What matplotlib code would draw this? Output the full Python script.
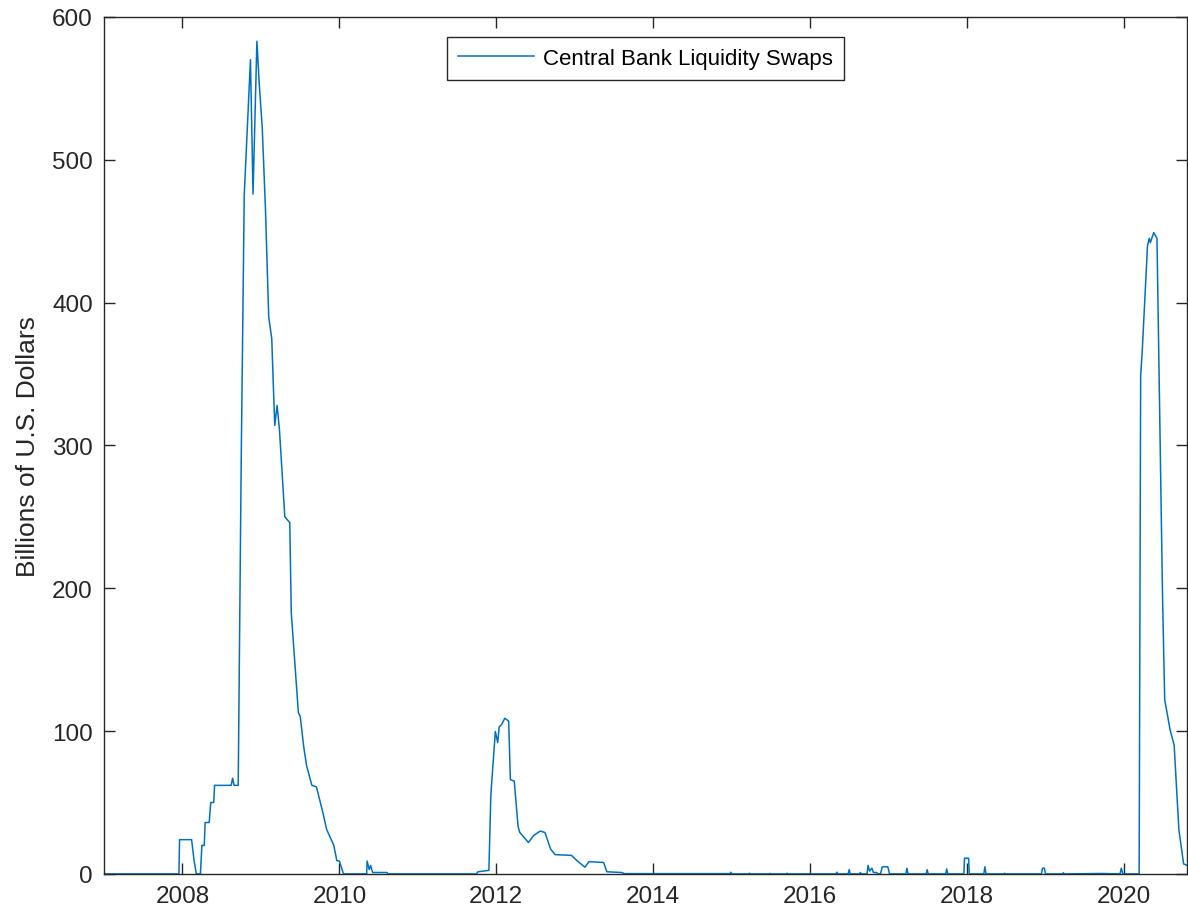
import matplotlib
matplotlib.use("Agg")
import matplotlib.pyplot as plt
import matplotlib.dates as mdates
import pandas as pd

plt.rcParams["font.family"] = ["Liberation Sans", "DejaVu Sans"]

# values, billions of USD
crisis_dates = [
    "2007-01-01", "2007-12-16", "2007-12-19", "2008-02-13", "2008-02-24",
    "2008-03-06", "2008-03-25", "2008-04-01", "2008-04-12", "2008-04-16",
    "2008-05-05", "2008-05-12", "2008-05-26", "2008-05-30", "2008-08-15",
    "2008-08-22", "2008-08-29", "2008-09-17", "2008-10-01", "2008-10-15",
    "2008-11-13", "2008-11-25", "2008-12-13", "2008-12-24", "2009-01-07",
    "2009-01-22", "2009-02-06", "2009-02-20", "2009-03-06", "2009-03-17",
    "2009-03-28", "2009-04-22", "2009-05-15", "2009-05-22", "2009-06-24",
    "2009-07-03", "2009-07-19", "2009-08-01", "2009-08-26", "2009-09-16",
    "2009-10-16", "2009-11-03", "2009-12-06", "2009-12-20", "2010-01-01",
    "2010-01-20", "2010-05-08", "2010-05-10", "2010-05-20", "2010-05-26",
    "2010-06-05", "2010-08-10", "2010-08-15",
]
crisis_vals = [
    0, 0, 24, 24, 10,
    0, 0, 20, 20, 36,
    36, 50, 50, 62, 62,
    67, 62, 62, 290, 475,
    570, 476, 583, 553, 522,
    465, 390, 375, 314, 328,
    311, 250, 246, 183, 113,
    110, 89, 76, 62, 61,
    43, 31, 20, 9.3, 9,
    0, 0, 9, 3, 6,
    1, 1, 0,
]

euro_dates = [
    "2011-10-01", "2011-10-08", "2011-11-28", "2011-12-07", "2011-12-12",
    "2011-12-28", "2012-01-08", "2012-01-15", "2012-01-26", "2012-02-10",
    "2012-02-28", "2012-03-07", "2012-03-25", "2012-04-12", "2012-04-20",
    "2012-05-30", "2012-06-24", "2012-07-24", "2012-08-15", "2012-09-10",
    "2012-10-01", "2012-12-16", "2013-01-11", "2013-02-17", "2013-03-08",
    "2013-05-15", "2013-05-30", "2013-08-07", "2013-08-20", "2014-12-20",
]
euro_vals = [
    0, 1.5, 2.5, 55, 66,
    99.7, 92, 103, 104.5, 109,
    107, 66, 65, 33, 29,
    22, 27, 30, 29, 17.5,
    13.5, 13, 9.3, 4.7, 8.6,
    8, 1.5, 1, 0.2, 0.2,
]

quiet_dates = [
    "2014-12-24", "2014-12-28", "2015-01-02", "2015-03-21", "2015-03-25",
    "2015-03-29", "2015-06-24", "2015-06-28", "2015-07-02", "2015-09-12",
    "2015-09-16", "2015-09-20", "2016-05-01", "2016-05-05", "2016-05-09",
    "2016-06-26", "2016-07-01", "2016-07-06", "2016-08-18", "2016-08-22",
    "2016-08-26", "2016-09-22", "2016-09-27", "2016-10-04", "2016-10-15",
    "2016-10-22", "2016-11-06", "2016-11-12", "2016-11-24", "2016-12-02",
    "2016-12-28", "2017-01-05", "2017-03-22", "2017-03-27", "2017-04-01",
    "2017-06-25", "2017-06-29", "2017-07-04", "2017-09-24", "2017-09-28",
    "2017-10-03", "2017-12-17", "2017-12-20", "2018-01-08", "2018-01-11",
    "2018-03-20", "2018-03-25", "2018-03-30", "2018-06-20", "2018-06-24",
    "2018-06-28", "2018-12-13", "2018-12-18", "2018-12-27", "2019-01-01",
    "2019-03-21", "2019-03-25", "2019-03-29", "2019-08-25", "2019-09-20",
    "2019-12-14", "2019-12-20", "2019-12-27",
]
quiet_vals = [
    0, 1.2, 0, 0, 0.5,
    0, 0, 0.4, 0, 0,
    0.5, 0, 0, 1.2, 0,
    0, 3, 0, 0, 1,
    0, 0, 6, 2, 4,
    1, 1, 0, 0, 5,
    5, 0, 0, 4, 0,
    0, 3, 0, 0, 3.5,
    0, 0, 11, 11, 0,
    0, 5, 0, 0, 0.5,
    0, 0, 4, 4, 0,
    0, 0.8, 0, 0.3, 0.3,
    0, 4, 0,
]

covid_dates = [
    "2020-03-12", "2020-03-19", "2020-03-26", "2020-04-20", "2020-04-28",
    "2020-05-03", "2020-05-19", "2020-06-03", "2020-06-29", "2020-07-09",
    "2020-08-03", "2020-08-22", "2020-09-13", "2020-10-05", "2020-10-21",
]
covid_vals = [
    0, 349, 365, 440, 445,
    442, 449, 445, 193, 122,
    101, 90, 31, 7, 6,
]

dates = pd.to_datetime(crisis_dates + euro_dates + quiet_dates + covid_dates)
vals = crisis_vals + euro_vals + quiet_vals + covid_vals

axcol = "#262626"
fig = plt.figure(figsize=(11.88, 9.2), dpi=100)
ax = fig.add_axes([0.0875, 0.049, 0.9117, 0.9315])
ax.plot(dates, vals, color="#0072BD", lw=1.1, label="Central Bank Liquidity Swaps")

ax.set_xlim(pd.Timestamp("2007-01-01"), pd.Timestamp("2020-10-21"))
ax.set_ylim(0, 600)
ax.set_yticks(range(0, 601, 100))
ax.xaxis.set_major_locator(mdates.YearLocator(2))
ax.xaxis.set_major_formatter(mdates.DateFormatter("%Y"))
ax.tick_params(direction="in", length=8, width=1, colors=axcol, labelsize=17.5,
               top=True, right=True, pad=8)
for s in ax.spines.values():
    s.set_color(axcol)
    s.set_linewidth(1)
ax.set_ylabel("Billions of U.S. Dollars", fontsize=19, color=axcol, labelpad=9)

leg = ax.legend(loc="upper center", bbox_to_anchor=(0.5, 0.977), fontsize=16,
                fancybox=False, framealpha=1, edgecolor=axcol, borderaxespad=0,
                handlelength=3.4, handletextpad=0.4, borderpad=0.5)
leg.get_frame().set_linewidth(1)

fig.savefig("out.png", dpi=100)
